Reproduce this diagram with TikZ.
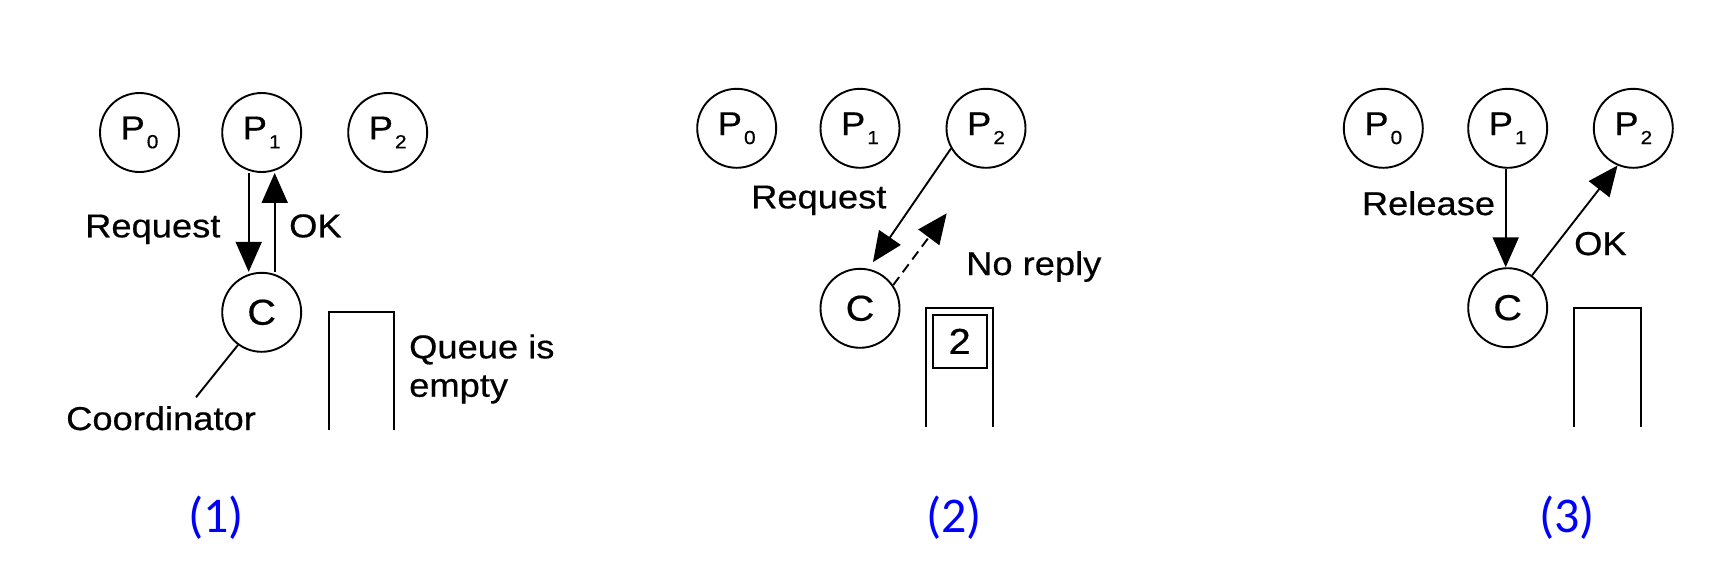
\documentclass[tikz,border=0pt]{standalone}
\usepackage{fontspec}
\setmainfont{Liberation Sans}[FakeStretch=1.1,FakeBold=0.5]
\newfontfamily\labfont{Carlito}
\usetikzlibrary{arrows.meta}
\definecolor{labblue}{RGB}{0,0,255}
\begin{document}
\begin{tikzpicture}[x=1pt,y=-1pt,
  proc/.style={circle,draw,line width=1.9pt,minimum size=79pt,inner sep=0pt,font=\fontsize{33}{33}\selectfont},
  txt/.style={anchor=base west,inner sep=0pt,font=\fontsize{33}{38}\selectfont},
  arr/.style={line width=1.9pt,-{Triangle[length=30pt,width=26pt]}},
  qline/.style={line width=1.9pt},
  panellbl/.style={anchor=base,inner sep=0pt,text=labblue,font=\labfont\fontsize{50}{50}\selectfont}]
\useasboundingbox (0,0) rectangle (1733,587);
\newcommand{\Pn}[1]{P\kern2pt\raisebox{-9pt}{\fontsize{19}{19}\selectfont #1}}
\newcommand{\Cn}{{\fontsize{36}{36}\selectfont C}}
% ---------- panel 1
\node[proc] (a0) at (139.5,132.5) {\Pn{0}};
\node[proc] (a1) at (261.7,132.5) {\Pn{1}};
\node[proc] (a2) at (387.7,132.5) {\Pn{2}};
\node[proc] (ac) at (261.7,312.3) {\Cn};
\draw[arr] ([xshift=-13pt]a1.south) -- ([xshift=-13pt]ac.north);
\draw[arr] ([xshift=13pt]ac.north) -- ([xshift=13pt]a1.south);
\node[txt] (areq) at (85,237.3) {Request};
\node[txt] (aok) at (289,237.3) {OK};
\coordinate (acoord) at (196,397.3);
\draw[qline] (ac.234) -- (acoord);
\node[txt] (acoordt) at (66,430) {Coordinator};
\draw[qline] (328.7,430) -- (328.7,311.7) -- (394.3,311.7) -- (394.3,430);
\node[txt] (aq1) at (409,358.3) {Queue is};
\node[txt] (aq2) at (409,396.7) {empty};
\node[panellbl] (l1) at (216,532.3) {(1)};
% ---------- panel 2
\node[proc] (b0) at (736.7,128.3) {\Pn{0}};
\node[proc] (b1) at (860,128.3) {\Pn{1}};
\node[proc] (b2) at (986,128.3) {\Pn{2}};
\node[proc] (bc) at (860,308.3) {\Cn};
\draw[arr,shorten >=8pt] (b2.210) -- (bc.78);
\coordinate (bnr) at (946.7,213.3);
\draw[arr,dash pattern=on 10pt off 6pt] (bc.35) -- (bnr);
\node[txt] (breq) at (751,208.3) {Request};
\node[txt] (bno) at (966,275) {No reply};
\draw[qline] (926,426.7) -- (926,308.3) -- (993.3,308.3) -- (993.3,426.7);
\node[draw,line width=1.9pt,minimum width=54pt,minimum height=52.7pt,inner sep=0pt,font=\fontsize{36}{36}\selectfont] (bq) at (959.7,341.3) {2};
\node[panellbl] (l2) at (954,532.3) {(2)};
% ---------- panel 3
\node[proc] (c0) at (1383.3,128.3) {\Pn{0}};
\node[proc] (c1) at (1507.7,128.3) {\Pn{1}};
\node[proc] (c2) at (1633.3,128.3) {\Pn{2}};
\node[proc] (cc) at (1507.7,307.7) {\Cn};
\draw[arr] ([xshift=-2pt]c1.south) -- ([xshift=-2pt]cc.north);
\draw[arr] (cc.53) -- (c2.247);
\node[txt] (crel) at (1361.7,215) {Release};
\node[txt] (cok) at (1574,255) {OK};
\draw[qline] (1574,426.7) -- (1574,308.3) -- (1640.7,308.3) -- (1640.7,426.7);
\node[panellbl] (l3) at (1567,532.3) {(3)};
\end{tikzpicture}
\end{document}
